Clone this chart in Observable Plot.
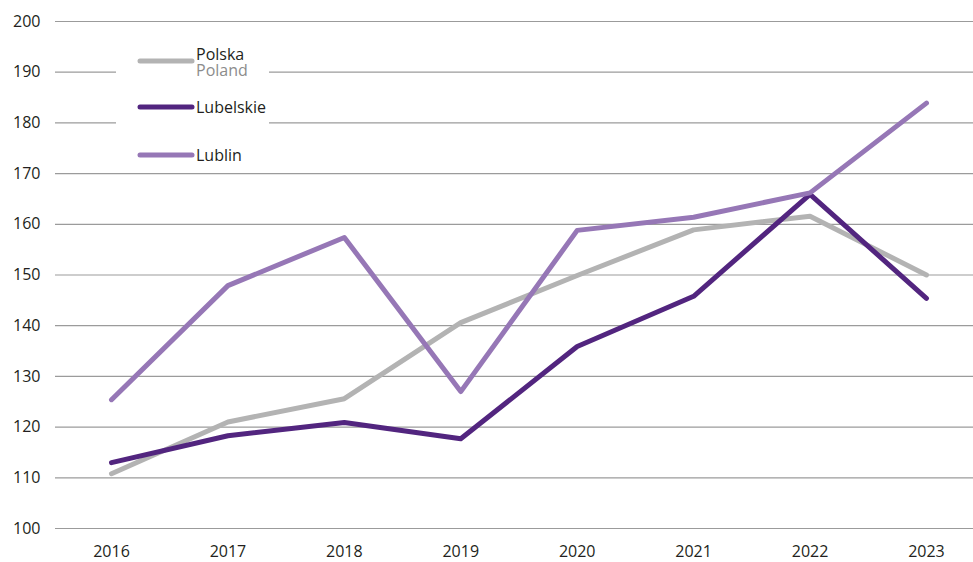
<!DOCTYPE html>
<html>
<head>
<meta charset="utf-8">
<script src="https://cdn.jsdelivr.net/npm/d3@7"></script>
<script src="https://cdn.jsdelivr.net/npm/@observablehq/plot@0.6"></script>
<style>
  html, body { margin: 0; padding: 0; background: #fff; }
  #wrap { position: relative; width: 973px; height: 562px; }
  #legend { position: absolute; left: 116px; top: 32px; width: 153px; height: 136px; background: #fff; }
  svg { font-family: "Open Sans", "DejaVu Sans", sans-serif; }
</style>
</head>
<body>
<div id="wrap"></div>
<script>
const years = [2016, 2017, 2018, 2019, 2020, 2021, 2022, 2023];
const polska = [110.8, 121.0, 125.6, 140.6, 149.9, 158.9, 161.6, 150.0];
const lubelskie = [113.0, 118.3, 120.9, 117.7, 135.9, 145.8, 165.9, 145.4];
const lublin = [125.4, 147.9, 157.4, 127.0, 158.8, 161.4, 166.2, 183.9];
const yTicks = [100, 110, 120, 130, 140, 150, 160, 170, 180, 190, 200];
const seriesNames = ["Polska", "Lubelskie", "Lublin"];
const seriesSub = ["Poland", "", ""];
const colors = ["#b3b3b3", "#52257f", "#9677b6"];

const seriesVals = [polska, lubelskie, lublin];
const data = seriesNames.flatMap((name, i) =>
  years.map((y, j) => ({ series: name, year: y, value: seriesVals[i][j] })));

const chart = Plot.plot({
  width: 973,
  height: 562,
  marginLeft: 55,
  marginRight: 0,
  marginTop: 21,
  marginBottom: 34,
  style: { fontSize: "16px", color: "#231f20", fontFamily: "'Open Sans', 'DejaVu Sans', sans-serif" },
  x: { type: "linear", domain: [2015.519, 2023.404], label: null },
  y: { domain: [100, 200], label: null },
  color: { domain: seriesNames, range: colors },
  marks: [
    Plot.ruleY(yTicks, { stroke: "#9b9b9b", strokeWidth: 1.2, strokeOpacity: 1 }),
    Plot.axisX({ ticks: years, tickFormat: d => String(d), tickSize: 0, tickPadding: 17, fill: "#231f20", fontSize: 16 }),
    Plot.axisY({ ticks: yTicks, tickSize: 0, tickPadding: 15, fill: "#231f20", fontSize: 16 }),
    Plot.line(data, { x: "year", y: "value", z: "series", stroke: "series", strokeWidth: 5, strokeLinejoin: "round", strokeLinecap: "round" })
  ]
});

const wrap = document.getElementById("wrap");
wrap.appendChild(chart);

// legend overlay
const leg = d3.select(wrap).append("div").attr("id", "legend");
const lsvg = leg.append("svg").attr("width", 153).attr("height", 136)
  .style("font-family", "'Open Sans', 'DejaVu Sans', sans-serif").style("font-size", "16px");
const legY = [29, 75, 123];
seriesNames.forEach((name, i) => {
  const g = lsvg.append("g").attr("transform", `translate(0,${legY[i]})`);
  g.append("line").attr("x1", 24).attr("x2", 76).attr("y1", 0).attr("y2", 0)
    .attr("stroke", colors[i]).attr("stroke-width", 5).attr("stroke-linecap", "round");
  const t = g.append("text").attr("x", 80).attr("y", seriesSub[i] ? -1 : 6);
  t.append("tspan").attr("fill", "#231f20").text(name);
  if (seriesSub[i]) t.append("tspan").attr("x", 80).attr("dy", 16).attr("fill", "#8c8c8c").text(seriesSub[i]);
});
</script>
</body>
</html>
